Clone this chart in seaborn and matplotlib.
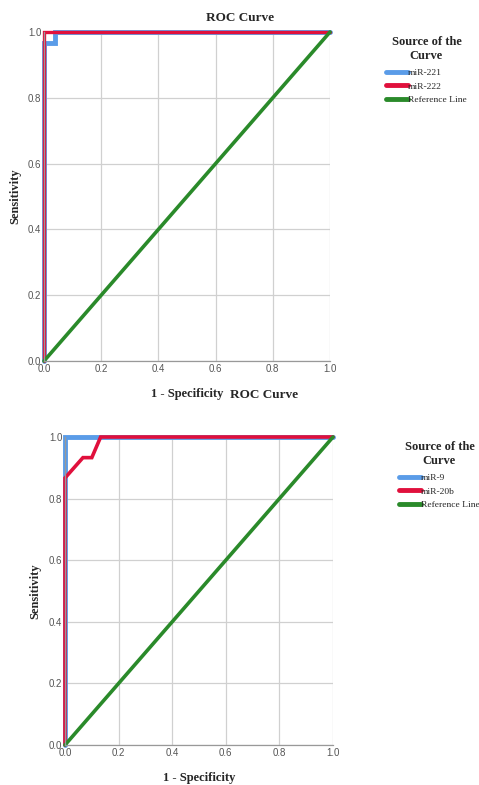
import numpy as np
import pandas as pd
import matplotlib.pyplot as plt
import seaborn as sns

# panel 1: miR-221 / miR-222
fpr_221 = [0.0, 0.0, 0.037, 0.037, 1.0]
tpr_221 = [0.0, 0.967, 0.967, 1.0, 1.0]
fpr_222 = [0.0, 0.0, 1.0]
tpr_222 = [0.0, 1.0, 1.0]

# panel 2: miR-9 / miR-20b
fpr_9 = [0.0, 0.0, 1.0]
tpr_9 = [0.0, 1.0, 1.0]
fpr_20b = [0.0, 0.0, 0.067, 0.10, 0.133, 1.0]
tpr_20b = [0.0, 0.867, 0.933, 0.933, 1.0, 1.0]

ref = [0.0, 1.0]
ticks = [0.0, 0.2, 0.4, 0.6, 0.8, 1.0]

BLUE = "#5a9ce8"
RED = "#e0103c"
GREEN = "#2a8a2a"

sns.set_style("white")
plt.rcParams['font.family'] = ['Liberation Serif', 'DejaVu Serif']

fig = plt.figure(figsize=(4.79, 7.85), dpi=100)


def roc_panel(rect, curves, title_x, title_y, leg_xy, ylab_x):
    ax = fig.add_axes(rect)
    for x, y, name, col, lw in curves:
        df = pd.DataFrame({"x": x, "y": y})
        sns.lineplot(data=df, x="x", y="y", sort=False, estimator=None,
                     color=col, linewidth=lw, label=name, ax=ax,
                     solid_joinstyle="miter")
    df = pd.DataFrame({"x": ref, "y": ref})
    sns.lineplot(data=df, x="x", y="y", sort=False, estimator=None,
                 color=GREEN, linewidth=2.6, label="Reference Line", ax=ax)

    ax.set_xlim(0, 1)
    ax.set_ylim(0, 1)
    ax.set_xticks(ticks)
    ax.set_yticks(ticks)
    ax.set_xticklabels([f"{t:.1f}" for t in ticks], family="Liberation Sans",
                       fontsize=7, color="#555555")
    ax.set_yticklabels([f"{t:.1f}" for t in ticks], family="Liberation Sans",
                       fontsize=7, color="#555555")
    ax.tick_params(length=0, pad=2)
    ax.grid(True, color="#d0d0d0", linewidth=0.9)
    ax.set_axisbelow(True)
    for s in ["top", "right"]:
        ax.spines[s].set_visible(False)
    for s in ["left", "bottom"]:
        ax.spines[s].set_color("#999999")
        ax.spines[s].set_linewidth(0.9)
    for line in ax.lines:
        line.set_clip_on(False)

    ax.set_xlabel("1 - Specificity", fontsize=9, fontweight="bold", labelpad=10)
    ax.set_ylabel("")
    fig.text(ylab_x, rect[1] + rect[3] / 2, "Sensitivity", rotation=90,
             fontsize=9, fontweight="bold", ha="center", va="center")
    fig.text(title_x, title_y, "ROC Curve", fontsize=9.5, fontweight="bold",
             ha="center", va="center")

    leg = ax.legend(loc="upper left", bbox_to_anchor=leg_xy,
                    bbox_transform=fig.transFigure, frameon=False,
                    title="Source of the\nCurve", fontsize=6.8,
                    handlelength=2.3, handletextpad=0.05, labelspacing=0.5,
                    borderaxespad=0, borderpad=0, alignment="center")
    leg.get_title().set_fontsize(9)
    leg.get_title().set_fontweight("bold")
    leg.get_title().set_multialignment("center")
    leg._legend_box.sep = 5
    for h in leg.get_lines():
        h.set_linewidth(3.5)
        h.set_solid_capstyle("round")
    return ax


roc_panel([44 / 479, 1 - 361 / 785, 286 / 479, 329 / 785],
          [(fpr_221, tpr_221, "miR-221", BLUE, 3.5),
           (fpr_222, tpr_222, "miR-222", RED, 2.4)],
          240 / 479, 1 - 18 / 785, (386 / 479, 1 - 36 / 785), 15 / 479)

roc_panel([65 / 479, 1 - 745 / 785, 268 / 479, 308 / 785],
          [(fpr_9, tpr_9, "miR-9", BLUE, 3.5),
           (fpr_20b, tpr_20b, "miR-20b", RED, 2.6)],
          264 / 479, 1 - 395 / 785, (399 / 479, 1 - 441 / 785), 35 / 479)

fig.savefig("out.png", dpi=100)
